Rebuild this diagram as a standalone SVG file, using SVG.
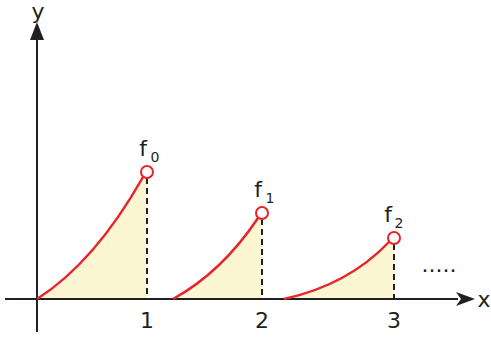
<svg xmlns="http://www.w3.org/2000/svg" width="491" height="337" viewBox="0 0 491 337">
<style>
.ax{stroke:#231f20;stroke-width:2;fill:none}
.cv{stroke:#e8232a;stroke-width:2.5;fill:none}
.fill{fill:#fdf6d3;stroke:none}
.dash{stroke:#231f20;stroke-width:2;stroke-dasharray:6,4;fill:none}
.pt{fill:#fff;stroke:#e8232a;stroke-width:2}
text{font-family:"DejaVu Sans","Liberation Sans",sans-serif;fill:#231f20}
.lb{font-size:22px}
.sb{font-size:14px}
</style>
<g id="areas">
<path class="fill" d="M37,299 Q95,262 147,172 L147,299 Z"/>
<path class="fill" d="M173,299 Q222,272 262,213 L262,299 Z"/>
<path class="fill" d="M284,299 Q348,285 394,238 L394,299 Z"/>
</g>
<g id="axes">
<line class="ax" x1="37" y1="332" x2="37" y2="40"/>
<path d="M37,22 L44,40 L30,40 Z" fill="#231f20"/>
<line class="ax" x1="5" y1="299" x2="458" y2="299"/>
<path d="M475,299 L456,292 L461,299 L456,306 Z" fill="#231f20"/>
<text class="lb" x="38" y="19" text-anchor="middle">y</text>
<text class="lb" x="484" y="307" text-anchor="middle">x</text>
<text class="lb" x="147" y="328" text-anchor="middle">1</text>
<text class="lb" x="262" y="328" text-anchor="middle">2</text>
<text class="lb" x="394" y="328" text-anchor="middle">3</text>
</g>
<g id="connectors">
<line class="dash" x1="147" y1="178" x2="147" y2="299"/>
<line class="dash" x1="262" y1="219" x2="262" y2="299"/>
<line class="dash" x1="394" y1="244" x2="394" y2="299"/>
</g>
<g id="curve0">
<path class="cv" d="M37,299 Q95,262 143,177"/>
<circle class="pt" cx="147" cy="172" r="6"/>
<text class="lb" x="143" y="156" text-anchor="middle">f</text>
<text class="sb" x="155" y="162" text-anchor="middle">0</text>
</g>
<g id="curve1">
<path class="cv" d="M173,299 Q222,272 258,218"/>
<circle class="pt" cx="262" cy="213" r="6"/>
<text class="lb" x="258" y="197" text-anchor="middle">f</text>
<text class="sb" x="270" y="203" text-anchor="middle">1</text>
</g>
<g id="curve2">
<path class="cv" d="M284,299 Q348,285 389,242"/>
<circle class="pt" cx="394" cy="238" r="6"/>
<text class="lb" x="388" y="222" text-anchor="middle">f</text>
<text class="sb" x="399" y="228" text-anchor="middle">2</text>
</g>
<g id="dots">
<text class="lb" x="439" y="272" text-anchor="middle">.....</text>
</g>
</svg>
